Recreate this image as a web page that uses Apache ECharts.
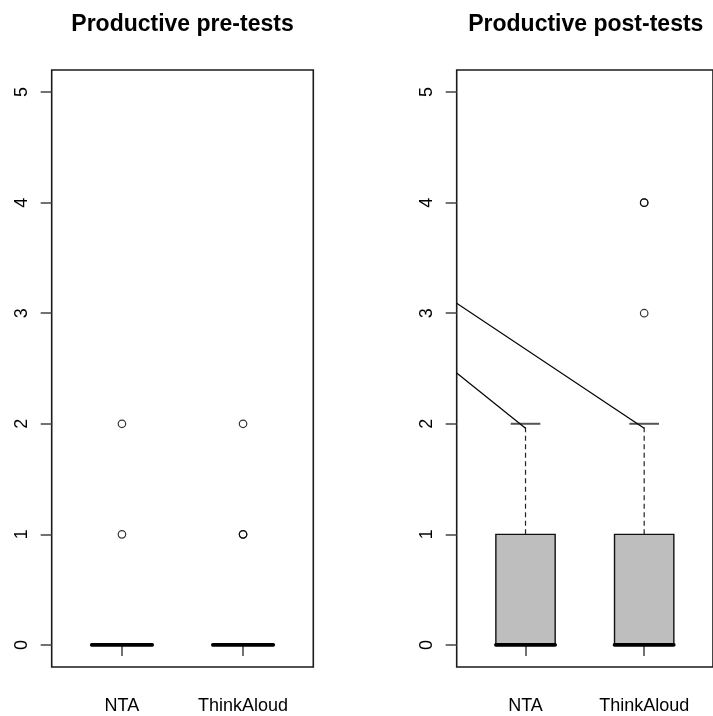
<!DOCTYPE html>
<html>
<head>
<meta charset="utf-8">
<script src="https://cdn.jsdelivr.net/npm/echarts@6/dist/echarts.min.js"></script>
<style>
html,body{margin:0;padding:0;background:#fff;}
#chart{width:713px;height:716px;}
</style>
</head>
<body>
<div id="chart"></div>
<script>
// ---- data ----
const categories = ['NTA', 'ThinkAloud'];
const yTicks = [0, 1, 2, 3, 4, 5];
const panelTitles = ['Productive pre-tests', 'Productive post-tests'];
// boxplot stats per category: [lowerWhisker, Q1, median, Q3, upperWhisker]
const preStats = [[0, 0, 0, 0, 0], [0, 0, 0, 0, 0]];
const postStats = [[0, 0, 0, 1, 2], [0, 0, 0, 1, 2]];
// outliers per category (repeated values = overlapping points)
const preOutliers = [[1, 2], [1, 1, 2]];
const postOutliers = [[], [3, 4, 4]];
// annotation lines in post-test panel: [x, y] endpoints
const annotLineA = [[0.42, 2.46], [1, 1.96]];
const annotLineB = [[0.42, 3.09], [2, 1.96]];

const FONT = 'Liberation Sans, Arial, Helvetica, sans-serif';

function boxData(stats) {
  return stats.map((s, i) => [i + 1].concat(s));
}
function outlierData(outs) {
  const d = [];
  outs.forEach((arr, i) => arr.forEach(v => d.push([i + 1, v])));
  return d;
}

function renderBox(params, api) {
  const x = api.value(0);
  const lo = api.value(1), q1 = api.value(2), med = api.value(3), q3 = api.value(4), hi = api.value(5);
  const hw = 0.25, sw = 0.125;
  const tl = api.coord([x - hw, q3]);
  const br = api.coord([x + hw, q1]);
  const c = (xx, yy) => api.coord([xx, yy]);
  const line = (p1, p2, style) => ({
    type: 'line',
    shape: { x1: p1[0], y1: p1[1], x2: p2[0], y2: p2[1] },
    style: Object.assign({ stroke: '#000', lineWidth: 1 }, style)
  });
  const children = [];
  // whiskers (dashed)
  children.push(line(c(x, q3), c(x, hi), { lineDash: [5, 3.5], stroke: '#222', lineWidth: 1.2 }));
  children.push(line(c(x, q1), c(x, lo), { lineDash: [5, 3.5], stroke: '#222', lineWidth: 1.2 }));
  // staples
  children.push(line(c(x - sw, hi), c(x + sw, hi), { stroke: '#555', lineWidth: 2 }));
  children.push(line(c(x - sw, lo), c(x + sw, lo), { stroke: '#555', lineWidth: 2 }));
  // box
  children.push({
    type: 'rect',
    shape: { x: tl[0], y: tl[1], width: br[0] - tl[0], height: br[1] - tl[1] },
    style: { fill: params.seriesIndex === 2 ? '#BEBEBE' : 'none', stroke: '#111', lineWidth: 1.4 }
  });
  // median
  children.push(line(c(x - hw, med), c(x + hw, med), { lineWidth: 3.6, lineCap: 'round' }));
  return { type: 'group', children: children };
}

const grids = [
  { left: 51.7, top: 70, width: 261.6, height: 597 },
  { left: 456.7, top: 70, width: 258.1, height: 597 }
];

const xAxes = grids.map((g, i) => ({
  type: 'value', gridIndex: i, min: 0.42, max: 2.58,
  splitLine: { show: false },
  axisLine: { show: false },
  axisTick: { show: true, inside: false, length: 11, customValues: [1, 2], lineStyle: { color: '#444', width: 1.5 } },
  axisLabel: {
    show: true, customValues: [1, 2], margin: 30,
    formatter: v => categories[Math.round(v) - 1] || '',
    fontFamily: FONT, fontSize: 18, color: '#000'
  }
}));
const yAxes = grids.map((g, i) => ({
  type: 'value', gridIndex: i, min: -0.2, max: 5.2,
  splitLine: { show: false },
  axisLine: { show: false },
  axisTick: { show: true, inside: false, length: 11, customValues: yTicks, lineStyle: { color: '#444', width: 1.5 } },
  axisLabel: {
    show: true, customValues: yTicks, margin: 21, rotate: 90,
    fontFamily: FONT, fontSize: 18, color: '#000'
  }
}));

const option = {
  animation: false,
  backgroundColor: '#fff',
  title: panelTitles.map((t, i) => ({
    text: t,
    left: i === 0 ? 182.5 : 585.8,
    textAlign: 'center',
    top: 13,
    padding: 0,
    textStyle: { fontFamily: FONT, fontSize: 23, fontWeight: 'bold', color: '#000' }
  })),
  grid: grids.map(g => Object.assign({ show: true, borderColor: '#1a1a1a', borderWidth: 1.6, backgroundColor: 'transparent' }, g)),
  xAxis: xAxes,
  yAxis: yAxes,
  series: [
    {
      type: 'custom', xAxisIndex: 0, yAxisIndex: 0,
      data: boxData(preStats), renderItem: renderBox,
      encode: { x: 0, y: [1, 2, 3, 4, 5] }, clip: false
    },
    {
      type: 'scatter', xAxisIndex: 0, yAxisIndex: 0,
      data: outlierData(preOutliers),
      symbol: 'circle', symbolSize: 7.5,
      itemStyle: { color: 'rgba(0,0,0,0)', borderColor: '#000', borderWidth: 1.2 }
    },
    {
      type: 'custom', xAxisIndex: 1, yAxisIndex: 1,
      data: boxData(postStats), renderItem: renderBox,
      encode: { x: 0, y: [1, 2, 3, 4, 5] }, clip: false
    },
    {
      type: 'scatter', xAxisIndex: 1, yAxisIndex: 1,
      data: outlierData(postOutliers),
      symbol: 'circle', symbolSize: 7.5,
      itemStyle: { color: 'rgba(0,0,0,0)', borderColor: '#000', borderWidth: 1.2 }
    },
    {
      type: 'line', xAxisIndex: 1, yAxisIndex: 1, data: annotLineA,
      symbol: 'none', lineStyle: { color: '#000', width: 1.2 }, silent: true
    },
    {
      type: 'line', xAxisIndex: 1, yAxisIndex: 1, data: annotLineB,
      symbol: 'none', lineStyle: { color: '#000', width: 1.2 }, silent: true
    }
  ]
};

const chart = echarts.init(document.getElementById('chart'), null, { renderer: 'canvas' });
chart.setOption(option);
</script>
</body>
</html>
